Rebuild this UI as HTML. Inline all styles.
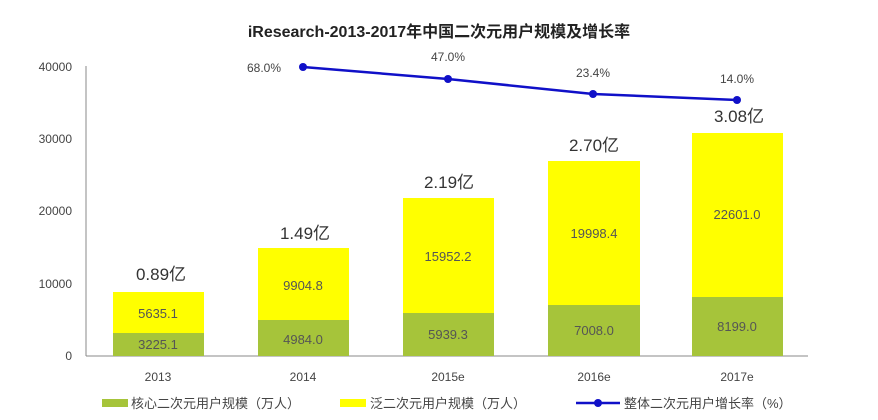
<!DOCTYPE html>
<html><head><meta charset="utf-8"><style>
body{margin:0;background:#fff;}
svg text{font-family:"Liberation Sans","Noto Sans CJK SC",sans-serif;}
</style></head><body>
<svg width="878" height="415" xmlns="http://www.w3.org/2000/svg">
<rect width="878" height="415" fill="#fff"/>
<text x="439" y="37" text-anchor="middle" font-size="16" font-weight="bold" fill="#222">iResearch-2013-2017年中国二次元用户规模及增长率</text>
<g font-size="12" fill="#444" text-anchor="end">
<text x="72" y="360">0</text>
<text x="72" y="288">10000</text>
<text x="72" y="215">20000</text>
<text x="72" y="143">30000</text>
<text x="72" y="71">40000</text>
</g>
<line x1="86" y1="66" x2="86" y2="356" stroke="#888"/>
<line x1="86" y1="356" x2="808" y2="356" stroke="#888"/>
<g fill="#ffff00">
<rect x="113" y="292" width="91" height="41"/>
<rect x="258" y="248" width="91" height="72"/>
<rect x="403" y="198" width="91" height="116"/>
<rect x="548" y="161" width="92" height="144"/>
<rect x="692" y="133" width="91" height="164"/>
</g>
<g fill="#a6c43a">
<rect x="113" y="333" width="91" height="23"/>
<rect x="258" y="320" width="91" height="36"/>
<rect x="403" y="313" width="91" height="43"/>
<rect x="548" y="305" width="92" height="51"/>
<rect x="692" y="297" width="91" height="59"/>
</g>
<g font-size="13" fill="#555" text-anchor="middle">
<text x="158" y="318">5635.1</text><text x="158" y="349">3225.1</text>
<text x="303" y="290">9904.8</text><text x="303" y="344">4984.0</text>
<text x="448" y="261">15952.2</text><text x="448" y="339">5939.3</text>
<text x="594" y="238">19998.4</text><text x="594" y="335">7008.0</text>
<text x="737" y="219">22601.0</text><text x="737" y="331">8199.0</text>
</g>
<g font-size="17" fill="#333" text-anchor="middle">
<text x="161" y="280">0.89亿</text>
<text x="305" y="239">1.49亿</text>
<text x="449" y="188">2.19亿</text>
<text x="594" y="151">2.70亿</text>
<text x="739" y="122">3.08亿</text>
</g>
<polyline points="303,67 448,79 593,94 737,100" fill="none" stroke="#1010c8" stroke-width="2.5"/>
<g fill="#1010c8"><circle cx="303" cy="67" r="4"/><circle cx="448" cy="79" r="4"/><circle cx="593" cy="94" r="4"/><circle cx="737" cy="100" r="4"/></g>
<g font-size="12" fill="#444" text-anchor="middle">
<text x="264" y="72">68.0%</text>
<text x="448" y="61">47.0%</text>
<text x="593" y="77">23.4%</text>
<text x="737" y="83">14.0%</text>
</g>
<g font-size="12" fill="#444" text-anchor="middle">
<text x="158" y="381">2013</text><text x="303" y="381">2014</text><text x="448" y="381">2015e</text><text x="594" y="381">2016e</text><text x="737" y="381">2017e</text>
</g>
<rect x="102" y="399" width="26" height="8" fill="#a6c43a"/>
<text x="131" y="408" font-size="13" fill="#444">核心二次元用户规模（万人）</text>
<rect x="340" y="399" width="26" height="8" fill="#ffff00"/>
<text x="370" y="408" font-size="13" fill="#444">泛二次元用户规模（万人）</text>
<line x1="576" y1="403" x2="620" y2="403" stroke="#1010c8" stroke-width="2.5"/>
<circle cx="598" cy="403" r="4" fill="#1010c8"/>
<text x="624" y="408" font-size="13" fill="#444">整体二次元用户增长率（%）</text>
</svg>
</body></html>
